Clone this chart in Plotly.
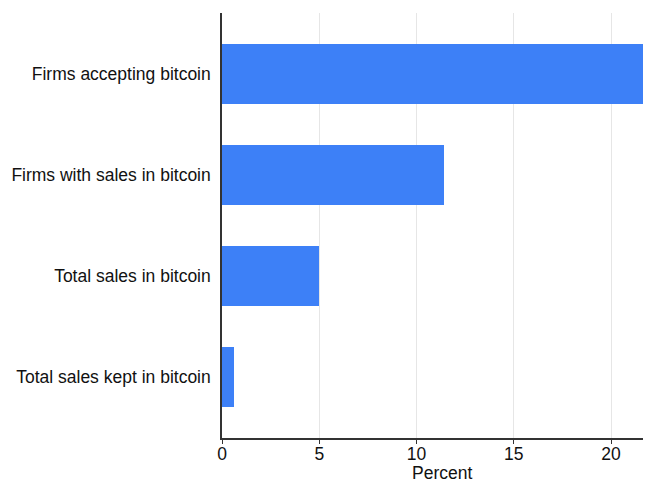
import plotly.graph_objects as go

categories = ["Firms accepting bitcoin", "Firms with sales in bitcoin",
              "Total sales in bitcoin", "Total sales kept in bitcoin"]
values = [21.7, 11.4, 5.0, 0.6]
x_ticks = [0, 5, 10, 15, 20]
x_title = "Percent"

fig = go.Figure(go.Bar(
    x=values, y=categories, orientation="h",
    marker=dict(color="#3D80F7", line=dict(width=0)),
    width=0.59,
))

# the page body has an 8px margin, so the figure is offset by 8px
fig.update_layout(
    width=643, height=474,
    margin=dict(l=214, r=1, t=5, b=44, autoexpand=False),
    paper_bgcolor="white", plot_bgcolor="white",
    font=dict(family="Liberation Sans, Arial, sans-serif", size=17.5, color="#111"),
    showlegend=False,
    bargap=0,
    annotations=[dict(
        text=x_title, xref="paper", yref="paper", x=0.514, y=-0.0824,
        xanchor="center", yanchor="middle", showarrow=False,
        font=dict(size=17.5),
    )],
)
fig.update_xaxes(
    range=[0, 22], tickvals=x_ticks, showgrid=True, gridcolor="#e6e6e6", gridwidth=1,
    showline=True, linecolor="#333", linewidth=1.5, ticks="outside", ticklen=4,
    tickcolor="#333", zeroline=False, automargin=False, ticklabelstandoff=-5,
)
fig.update_yaxes(
    range=[3.6, -0.6], showgrid=False, showline=True, linecolor="#333", linewidth=1.5,
    ticks="", ticklabelstandoff=6, zeroline=False, automargin=False,
)

fig.write_html("out.html")
